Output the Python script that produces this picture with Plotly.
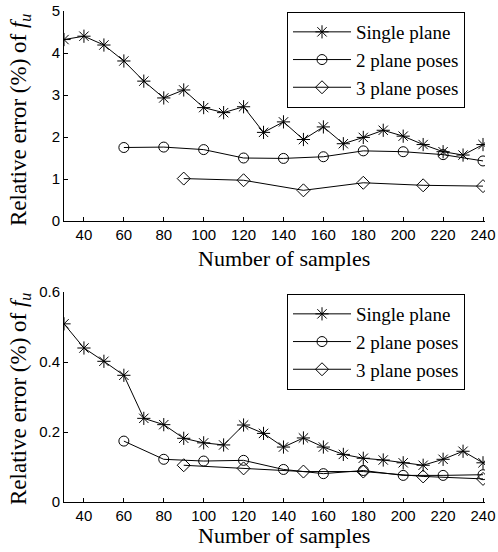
import plotly.graph_objects as go

# ---- data ----
x_single = [30, 40, 50, 60, 70, 80, 90, 100, 110, 120, 130, 140, 150, 160, 170, 180, 190, 200, 210, 220, 230, 240]
x_two = [60, 80, 100, 120, 140, 160, 180, 200, 220, 240]
x_three = [90, 120, 150, 180, 210, 240]

top_single = [4.32, 4.40, 4.19, 3.81, 3.33, 2.93, 3.12, 2.70, 2.58, 2.72, 2.11, 2.36, 1.94, 2.24, 1.84, 1.99, 2.16, 2.02, 1.82, 1.65, 1.57, 1.82]
top_two = [1.75, 1.76, 1.70, 1.50, 1.49, 1.53, 1.67, 1.65, 1.58, 1.43]
top_three = [1.01, 0.97, 0.73, 0.91, 0.85, 0.83]

bot_single = [0.509, 0.440, 0.402, 0.362, 0.239, 0.221, 0.182, 0.169, 0.163, 0.220, 0.196, 0.157, 0.183, 0.157, 0.136, 0.125, 0.120, 0.112, 0.105, 0.122, 0.145, 0.112]
bot_two = [0.174, 0.122, 0.117, 0.119, 0.093, 0.081, 0.090, 0.076, 0.076, 0.078]
bot_three = [0.105, 0.096, 0.087, 0.087, 0.073, 0.066]

names = ["Single plane", "2 plane poses", "3 plane poses"]
symbols = ["asterisk-open", "circle-open", "diamond-open"]
x_tick_vals = [40, 60, 80, 100, 120, 140, 160, 180, 200, 220, 240]
x_title = "Number of samples"
y_title = "Relative error (%) of <i>f</i><sub><i>u</i></sub>"

fig = go.Figure()

def add_set(ys, xaxis, yaxis, legend):
    for i, (xs, y) in enumerate(zip([x_single, x_two, x_three], ys)):
        fig.add_trace(go.Scatter(
            x=xs, y=y, name=names[i], mode="lines+markers",
            xaxis=xaxis, yaxis=yaxis, legend=legend,
            line=dict(color="black", width=1),
            marker=dict(symbol=symbols[i], size=10 if i else 11, color="black",
                        line=dict(color="black", width=1)),
        ))

add_set([top_single, top_two, top_three], "x", "y", "legend")
add_set([bot_single, bot_two, bot_three], "x2", "y2", "legend2")

tick_font = dict(family="Liberation Sans, Arial", size=15, color="black")
xtitle_font = dict(family="Liberation Serif, Times New Roman", size=22, color="black")
ytitle_font = dict(family="Liberation Serif, Times New Roman", size=23, color="black")
legend_font = dict(family="Liberation Serif, Times New Roman", size=19, color="black")

axis_common = dict(showline=True, linecolor="black", linewidth=1, ticks="inside",
                   ticklen=4, tickcolor="black", showgrid=False, zeroline=False,
                   tickfont=tick_font, mirror=False, automargin=False,
                   ticklabeloverflow="allow")

W, H = 498, 552
ML, MR, MT, MB = 64, 13, 11, 50
PW, PH = W - ML - MR, H - MT - MB

def px(xr):  # pixel x -> paper
    return (xr - ML) / PW

def py(yr):  # pixel y -> paper
    return (H - MB - yr) / PH

annotations = []
for yc in (258, 535):
    annotations.append(dict(text=x_title, x=px(284), y=py(yc), xref="paper", yref="paper",
                            xanchor="center", yanchor="middle", showarrow=False, font=xtitle_font))
for yc in (120, 399):
    annotations.append(dict(text=y_title, x=px(20), y=py(yc), xref="paper", yref="paper",
                            xanchor="center", yanchor="middle", showarrow=False, textangle=-90,
                            font=ytitle_font))

fig.update_layout(
    width=W, height=H,
    paper_bgcolor="white", plot_bgcolor="white",
    margin=dict(l=ML, r=MR, t=MT, b=MB),
    showlegend=True,
    annotations=annotations,
    xaxis=dict(domain=[0, 1], anchor="y", range=[30, 241], tickvals=x_tick_vals, **axis_common),
    yaxis=dict(domain=[py(221), 1], anchor="x", range=[0, 5], tickvals=[0, 1, 2, 3, 4, 5], **axis_common),
    xaxis2=dict(domain=[0, 1], anchor="y2", range=[30, 241], tickvals=x_tick_vals, **axis_common),
    yaxis2=dict(domain=[0, py(292)], anchor="x2", range=[0, 0.6], tickvals=[0, 0.2, 0.4, 0.6], **axis_common),
    legend=dict(x=px(287), y=py(12), xanchor="left", yanchor="top", bgcolor="white",
                bordercolor="black", borderwidth=1, itemwidth=58, font=legend_font),
    legend2=dict(x=px(287), y=py(294), xanchor="left", yanchor="top", bgcolor="white",
                 bordercolor="black", borderwidth=1, itemwidth=58, font=legend_font),
)

fig.write_html("out.html", config={"displayModeBar": False},
               post_script="document.body.style.margin='0px';document.body.style.overflow='hidden';")
